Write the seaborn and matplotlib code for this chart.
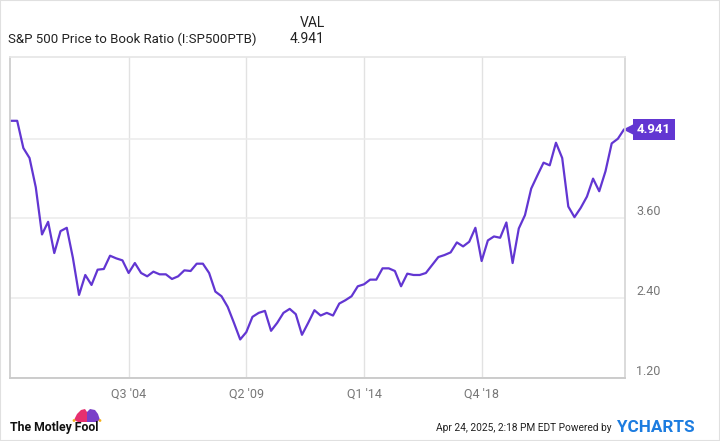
import matplotlib
matplotlib.use('Agg')
import matplotlib.pyplot as plt
import matplotlib.transforms as mtransforms
from matplotlib.patches import Polygon, Rectangle, Circle
import seaborn as sns
import pandas as pd

sns.set_theme(style='white')
plt.rcParams['font.family'] = ['Roboto', 'DejaVu Sans']

# data (quarterly)
pb_ratio = [5.07, 5.07, 4.66, 4.51, 4.07, 3.36, 3.55, 3.08, 3.41, 3.46,
            3.01, 2.45, 2.75, 2.60, 2.83, 2.84, 3.04, 3.00, 2.97, 2.78,
            2.93, 2.78, 2.73, 2.80, 2.76, 2.76, 2.69, 2.73, 2.82, 2.81,
            2.92, 2.92, 2.78, 2.50, 2.43, 2.27, 2.03, 1.78, 1.89, 2.12,
            2.18, 2.21, 1.91, 2.03, 2.18, 2.24, 2.16, 1.85, 2.03, 2.22,
            2.14, 2.18, 2.14, 2.32, 2.37, 2.43, 2.58, 2.61, 2.68, 2.68,
            2.85, 2.85, 2.81, 2.58, 2.77, 2.75, 2.75, 2.78, 2.90, 3.02,
            3.05, 3.09, 3.24, 3.18, 3.25, 3.46, 2.96, 3.27, 3.33, 3.31,
            3.54, 2.93, 3.45, 3.65, 4.05, 4.25, 4.44, 4.40, 4.74, 4.51,
            3.78, 3.62, 3.76, 3.93, 4.20, 4.01, 4.31, 4.73, 4.80, 4.941]
start_date = '1999-10-01'
x_tick_dates = ['2004-07-01', '2009-04-01', '2014-01-01', '2018-10-01']
x_tick_labels = ["Q3 '04", "Q2 '09", "Q1 '14", "Q4 '18"]
y_ticks = [1.20, 2.40, 3.60, 4.80]
y_tick_labels = ['1.20', '2.40', '3.60', '']
last_val = '4.941'

dates = pd.date_range(start_date, periods=len(pb_ratio), freq='QS')
df = pd.DataFrame({'Date': dates, 'PB': pb_ratio})

purple = '#6236d2'
W, H = 720, 441
fig = plt.figure(figsize=(7.2, 4.41), dpi=100)
ax = fig.add_axes([10 / W, 1 - 378 / H, 615 / W, 321 / H])

sns.lineplot(data=df, x='Date', y='PB', ax=ax, color=purple, linewidth=1.6)

ax.set_xlim(dates[0] - pd.Timedelta(days=14), dates[-1] + pd.Timedelta(days=14))
ax.set_ylim(1.20, 6.03)
ax.set_xlabel('')
ax.set_ylabel('')

ax.set_xticks(pd.to_datetime(x_tick_dates))
ax.set_xticklabels(x_tick_labels)
ax.set_yticks(y_ticks)
ax.set_yticklabels(y_tick_labels)
ax.yaxis.tick_right()
ax.tick_params(axis='x', length=0, pad=7, labelsize=9, labelcolor='#777777')
ax.tick_params(axis='y', length=0, pad=8, labelsize=9, labelcolor='#777777')
for lbl in ax.get_yticklabels():
    lbl.set_verticalalignment('bottom')

ax.grid(True, axis='y', color='#ebebeb', linewidth=1.1)
ax.grid(True, axis='x', color='#e2e2e2', linewidth=1.0)
ax.set_axisbelow(True)

ax.spines['left'].set_color('#cccccc')
ax.spines['bottom'].set_color('#cccccc')
ax.spines['bottom'].set_linewidth(1.4)
ax.spines['top'].set_color('#e6e6e6')
ax.spines['right'].set_color('#d6d6d6')
for s in ax.spines.values():
    s.set_visible(True)

# last value tag
trans = mtransforms.blended_transform_factory(ax.transAxes, ax.transData)
ax.plot([1.0], [pb_ratio[-1]], marker='<', markersize=9, color=purple,
        transform=trans + mtransforms.ScaledTranslation(5 / 100, 0, fig.dpi_scale_trans),
        clip_on=False)
ax.annotate(last_val, xy=(1.0, pb_ratio[-1]), xycoords=trans,
            xytext=(12, 0), textcoords='offset pixels', ha='left', va='center',
            color='white', fontsize=9.5, fontweight='bold',
            bbox=dict(boxstyle='square,pad=0.3', fc=purple, ec='none'),
            annotation_clip=False)

# header
fig.text(8 / W, 1 - 39 / H, 'S&P 500 Price to Book Ratio (I:SP500PTB)', ha='left',
         va='center', fontsize=9.5, color='#222222')
fig.text(325 / W, 1 - 23 / H, 'VAL', ha='right', va='center', fontsize=10, color='#222222')
fig.text(325 / W, 1 - 39 / H, last_val, ha='right', va='center', fontsize=10, color='#222222')

# footer
fig.text(10 / W, 1 - 428 / H, 'The Motley Fool', ha='left', va='center', fontsize=8.8,
         fontweight='bold', color='#111111')
hat = fig.add_axes([71 / W, 1 - 423 / H, 32 / W, 16 / H])
hat.set_xlim(0, 32)
hat.set_ylim(0, 16)
hat.axis('off')
hat.add_patch(Polygon([[3, 3], [6, 9], [10, 13], [14, 14], [16, 11], [16, 1], [7, 1]],
                      closed=True, fc='#e6306f', ec='none'))
hat.add_patch(Polygon([[16, 1], [16, 11], [19, 14], [24, 13], [27, 9], [29, 3], [25, 1]],
                      closed=True, fc='#7a3fc8', ec='none'))
hat.add_patch(Circle((3, 2.5), 1.4, fc='#f5b21b', ec='none'))
hat.add_patch(Circle((29, 2.5), 1.4, fc='#f5b21b', ec='none'))

fig.text(612 / W, 1 - 428 / H, 'Apr 24, 2025, 2:18 PM EDT Powered by', ha='right',
         va='center', fontsize=7.3, color='#222222')
fig.text(617 / W, 1 - 427 / H, 'YCHARTS', ha='left', va='center', fontsize=12.3,
         fontweight='bold', color='#1c7ce0')

fig.patches.append(Rectangle((0, 0), 1, 1, transform=fig.transFigure, fill=False,
                             ec='#e0e0e0', lw=1.5))

fig.savefig('out.png', dpi=100)
